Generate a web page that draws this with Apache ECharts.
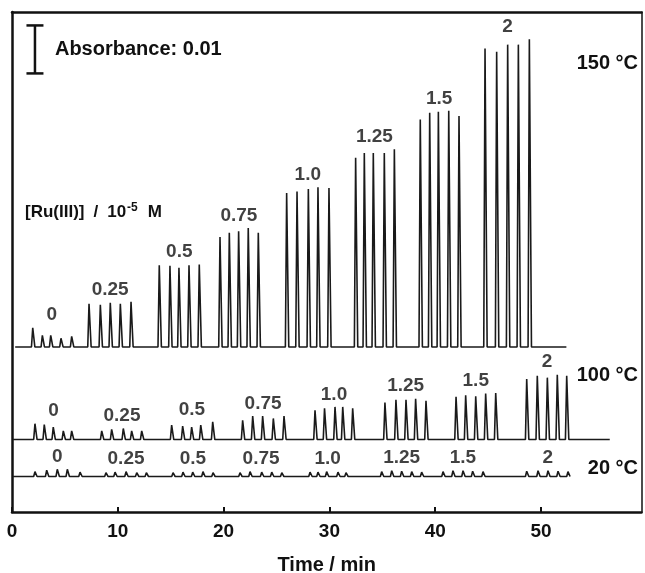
<!DOCTYPE html>
<html>
<head>
  <meta charset="utf-8">
  <title>Ru(III) flow injection peaks</title>
  <style>
    html, body { margin: 0; padding: 0; background: #fff; }
    #chart { width: 645px; height: 573px; }
  </style>
</head>
<body>
  <div id="chart"></div>
  <script src="https://cdn.jsdelivr.net/npm/echarts@6/dist/echarts.min.js"></script>
  <script>
  // [Ru(III)] / 10^-5 M, one label per group of five injections
  const concLabels = ['0', '0.25', '0.5', '0.75', '1.0', '1.25', '1.5', '2'];

  // 150 °C trace: peak times (min) and peak heights (absorbance above baseline)
  const time150 = [
    1.96, 2.87, 3.66, 4.63, 5.64,
    7.28, 8.35, 9.29, 10.24, 11.25,
    13.92, 14.93, 15.78, 16.73, 17.70,
    19.66, 20.54, 21.42, 22.33, 23.28,
    25.96, 26.94, 28.01, 28.92, 29.96,
    32.48, 33.30, 34.15, 35.19, 36.14,
    38.59, 39.48, 40.30, 41.28, 42.25,
    44.71, 45.81, 46.85, 47.86, 48.90
  ];
  const height150 = [
    0.0040, 0.0024, 0.0024, 0.0018, 0.0022,
    0.0090, 0.0088, 0.0092, 0.0090, 0.0094,
    0.0170, 0.0169, 0.0165, 0.0170, 0.0172,
    0.0229, 0.0238, 0.0241, 0.0248, 0.0238,
    0.0321, 0.0324, 0.0329, 0.0333, 0.0331,
    0.0394, 0.0404, 0.0404, 0.0404, 0.0412,
    0.0474, 0.0488, 0.0490, 0.0492, 0.0481,
    0.0622, 0.0615, 0.0630, 0.0630, 0.0641
  ];

  // 100 °C trace
  const time100 = [
    2.17, 3.05, 3.90, 4.85, 5.64,
    8.48, 9.42, 10.52, 11.31, 12.26,
    15.09, 16.13, 16.98, 17.84, 18.97,
    21.80, 22.75, 23.69, 24.70, 25.71,
    28.64, 29.54, 30.53, 31.26, 32.20,
    35.25, 36.29, 37.24, 38.15, 39.13,
    41.97, 42.88, 43.83, 44.77, 45.72,
    48.65, 49.65, 50.60, 51.54, 52.43
  ];
  const height100 = [
    0.0033, 0.0031, 0.0026, 0.0018, 0.0018,
    0.0018, 0.0021, 0.0023, 0.0018, 0.0018,
    0.0030, 0.0028, 0.0026, 0.0030, 0.0037,
    0.0040, 0.0049, 0.0049, 0.0044, 0.0049,
    0.0061, 0.0065, 0.0068, 0.0068, 0.0065,
    0.0077, 0.0083, 0.0083, 0.0085, 0.0081,
    0.0089, 0.0092, 0.0090, 0.0096, 0.0097,
    0.0126, 0.0133, 0.0129, 0.0135, 0.0133
  ];

  // 20 °C trace
  const time20 = [
    2.17, 3.28, 4.28, 5.23, 6.43,
    8.88, 9.74, 10.78, 11.79, 12.70,
    15.22, 16.16, 17.08, 18.05, 19.00,
    21.55, 22.50, 23.60, 24.55, 25.50,
    28.17, 28.92, 29.74, 30.81, 31.57,
    34.94, 35.89, 36.83, 37.78, 38.72,
    40.74, 41.68, 42.63, 43.54, 44.52,
    48.65, 49.72, 50.66, 51.61, 52.55
  ];
  const height20 = [
    0.0010, 0.0013, 0.0015, 0.0015, 0.0009,
    0.0008, 0.0009, 0.0010, 0.0008, 0.0008,
    0.0008, 0.0009, 0.0009, 0.0010, 0.0008,
    0.0008, 0.0010, 0.0009, 0.0009, 0.0008,
    0.0009, 0.0009, 0.0010, 0.0009, 0.0008,
    0.0010, 0.0012, 0.0011, 0.0010, 0.0009,
    0.0010, 0.0012, 0.0012, 0.0011, 0.0010,
    0.0011, 0.0012, 0.0012, 0.0011, 0.0010
  ];

  // vertical offsets of the stacked traces (absorbance) and run span (min)
  const traces = [
    { name: '150 °C', base: 0.0344, start: 0.3, end: 52.4, time: time150, height: height150 },
    { name: '100 °C', base: 0.0151, start: 0.1, end: 56.5, time: time100, height: height100 },
    { name: '20 °C',  base: 0.0074, start: 0.1, end: 52.7, time: time20,  height: height20 }
  ];

  // absorbance scale bar: x (min), from / to (absorbance)
  const scaleBar = [[2.17, 0.0914, 0.1014]];

  const FONT = 'Liberation Sans, Arial, sans-serif';
  const INK = '#111';

  function tracePoints(tr) {
    const pts = [[tr.start, tr.base]];
    tr.time.forEach(function (t, i) {
      pts.push([t - 0.12, tr.base]);
      pts.push([t, tr.base + tr.height[i]]);
      pts.push([t + 0.2, tr.base]);
    });
    pts.push([tr.end, tr.base]);
    return pts;
  }

  function groupLabels(tr) {
    return concLabels.map(function (c, g) {
      const ts = tr.time.slice(g * 5, g * 5 + 5);
      const hs = tr.height.slice(g * 5, g * 5 + 5);
      const x = ts.reduce(function (a, b) { return a + b; }, 0) / ts.length;
      return { value: [x, tr.base + Math.max.apply(null, hs)], name: c };
    });
  }

  const series = [];
  traces.forEach(function (tr) {
    series.push({
      type: 'line',
      data: tracePoints(tr),
      showSymbol: false,
      smooth: false,
      lineStyle: { color: '#1a1a1a', width: 1.6 },
      silent: true,
      z: 3
    });
    series.push({
      type: 'scatter',
      data: groupLabels(tr),
      symbolSize: 0,
      silent: true,
      label: {
        show: true,
        position: 'top',
        distance: 3,
        formatter: '{b}',
        color: INK,
        fontFamily: FONT,
        fontWeight: 'bold',
        fontSize: 19
      },
      z: 4
    });
  });

  series.push({
    type: 'custom',
    data: scaleBar,
    silent: true,
    renderItem: function (params, api) {
      const p0 = api.coord([api.value(0), api.value(1)]);
      const p1 = api.coord([api.value(0), api.value(2)]);
      const line = { stroke: INK, lineWidth: 2.5 };
      return {
        type: 'group',
        children: [
          { type: 'line', shape: { x1: p0[0], y1: p0[1], x2: p1[0], y2: p1[1] }, style: line },
          { type: 'line', shape: { x1: p0[0] - 8.5, y1: p0[1], x2: p0[0] + 8.5, y2: p0[1] }, style: line },
          { type: 'line', shape: { x1: p1[0] - 8.5, y1: p1[1], x2: p1[0] + 8.5, y2: p1[1] }, style: line },
          {
            type: 'text',
            style: {
              x: p0[0] + 20, y: (p0[1] + p1[1]) / 2,
              text: 'Absorbance: 0.01',
              fill: INK, font: 'bold 20px ' + FONT,
              textAlign: 'left', textVerticalAlign: 'middle'
            }
          }
        ]
      };
    }
  });

  const option = {
    animation: false,
    backgroundColor: '#fff',
    grid: { left: 12, right: 3.5, top: 12, bottom: 61, outerBoundsMode: 'none' },
    xAxis: [{
      type: 'value',
      min: 0,
      max: 59.5,
      interval: 10,
      name: 'Time / min',
      nameLocation: 'middle',
      nameGap: 43,
      nameTextStyle: { color: INK, fontFamily: FONT, fontWeight: 'bold', fontSize: 20 },
      axisLine: { onZero: false, lineStyle: { color: INK, width: 2.5 } },
      axisTick: { inside: true, length: 5, lineStyle: { color: INK, width: 2 } },
      axisLabel: { color: INK, fontFamily: FONT, fontWeight: 'bold', fontSize: 19, margin: 10, showMaxLabel: false },
      splitLine: { show: false }
    }, {
      type: 'value',
      position: 'top',
      min: 0,
      max: 59.5,
      axisLine: { onZero: false, lineStyle: { color: INK, width: 2.5 } },
      axisTick: { show: false },
      axisLabel: { show: false },
      splitLine: { show: false }
    }],
    yAxis: [{
      type: 'value',
      min: 0,
      max: 0.1042,
      axisLine: { show: true, onZero: false, lineStyle: { color: INK, width: 2.5 } },
      axisTick: { show: false },
      axisLabel: { show: false },
      splitLine: { show: false }
    }, {
      type: 'value',
      position: 'right',
      min: 0,
      max: 0.1042,
      axisLine: { show: true, onZero: false, lineStyle: { color: INK, width: 1.5 } },
      axisTick: { show: false },
      axisLabel: { show: false },
      splitLine: { show: false }
    }],
    graphic: [
      { type: 'text', x: 638, y: 63, style: { text: '150 °C', fill: INK, font: 'bold 20px ' + FONT, textAlign: 'right', textVerticalAlign: 'middle' } },
      { type: 'text', x: 638, y: 375, style: { text: '100 °C', fill: INK, font: 'bold 20px ' + FONT, textAlign: 'right', textVerticalAlign: 'middle' } },
      { type: 'text', x: 638, y: 468, style: { text: '20 °C', fill: INK, font: 'bold 20px ' + FONT, textAlign: 'right', textVerticalAlign: 'middle' } },
      {
        type: 'text', x: 25, y: 212,
        style: {
          text: '{a|[Ru(III)]}{sl|/}{a|10}{s|-5}{m|M}',
          textVerticalAlign: 'middle',
          rich: {
            a: { fill: INK, fontFamily: FONT, fontWeight: 'bold', fontSize: 17 },
            sl: { fill: INK, fontFamily: FONT, fontWeight: 'bold', fontSize: 17, padding: [0, 9, 0, 9] },
            s: { fill: INK, fontFamily: FONT, fontWeight: 'bold', fontSize: 12, padding: [0, 0, 8, 1] },
            m: { fill: INK, fontFamily: FONT, fontWeight: 'bold', fontSize: 17, padding: [0, 0, 0, 10] }
          }
        }
      }
    ],
    series: series
  };

  echarts.init(document.getElementById('chart')).setOption(option);
  </script>
</body>
</html>
